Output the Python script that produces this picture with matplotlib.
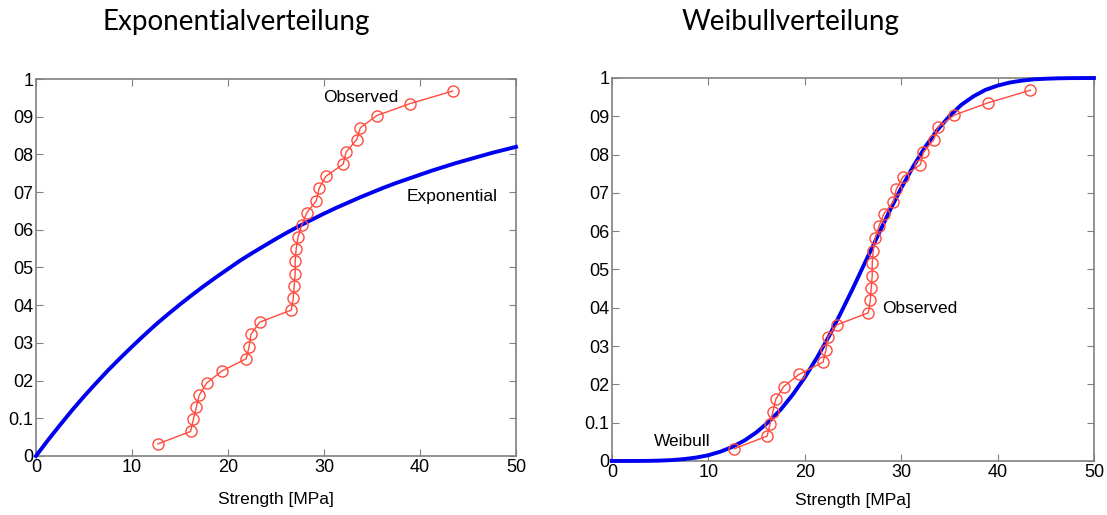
import matplotlib
matplotlib.use("Agg")
import matplotlib.pyplot as plt

plt.rcParams["font.family"] = ["Liberation Sans", "DejaVu Sans"]

# observed strengths [MPa] and plotting positions
obs_x = [12.7, 16.1, 16.4, 16.7, 17.0, 17.8, 19.4, 21.9, 22.2, 22.4,
         23.3, 26.6, 26.8, 26.9, 27.0, 27.0, 27.1, 27.3, 27.7, 28.2,
         29.2, 29.5, 30.2, 32.0, 32.3, 33.4, 33.8, 35.5, 39.0, 43.4]
obs_y = [0.032, 0.065, 0.097, 0.129, 0.161, 0.194, 0.226, 0.258, 0.290, 0.323,
         0.355, 0.387, 0.419, 0.452, 0.484, 0.516, 0.548, 0.581, 0.613, 0.645,
         0.677, 0.710, 0.742, 0.774, 0.806, 0.839, 0.871, 0.903, 0.935, 0.968]

# fitted curves
curve_x = [0, 1.25, 2.5, 3.75, 5, 6.25, 7.5, 8.75, 10, 11.25, 12.5, 13.75,
           15, 16.25, 17.5, 18.75, 20, 21.25, 22.5, 23.75, 25, 26.25,
           27.5, 28.75, 30, 31.25, 32.5, 33.75, 35, 36.25, 37.5, 38.75,
           40, 41.25, 42.5, 43.75, 45, 46.25, 47.5, 48.75, 50]
expo_y = [0.0, 0.042, 0.082, 0.121, 0.158, 0.193, 0.227, 0.259, 0.290, 0.320,
          0.349, 0.376, 0.402, 0.427, 0.451, 0.474, 0.496, 0.518, 0.538, 0.557,
          0.576, 0.594, 0.611, 0.627, 0.643, 0.658, 0.672, 0.686, 0.699, 0.712,
          0.724, 0.735, 0.746, 0.757, 0.767, 0.777, 0.786, 0.795, 0.804, 0.812,
          0.820]
weib_y = [0.0, 0.0, 0.0001, 0.0003, 0.001, 0.0023, 0.005, 0.009, 0.015, 0.0243,
          0.037, 0.0535, 0.075, 0.102, 0.134, 0.173, 0.218, 0.269, 0.325, 0.387,
          0.451, 0.518, 0.584, 0.650, 0.712, 0.769, 0.820, 0.864, 0.900, 0.930,
          0.952, 0.969, 0.980, 0.988, 0.993, 0.9964, 0.998, 0.9991, 0.9996, 0.9998,
          0.9999]

x_ticks = [0, 10, 20, 30, 40, 50]
y_ticks = [0, 0.1, 0.2, 0.3, 0.4, 0.5, 0.6, 0.7, 0.8, 0.9, 1.0]
y_ticklabels = ["0", "0.1", "02", "03", "04", "05", "06", "07", "08", "09", "1"]

red = "#ff4a3d"
blue = "#0000f0"
spine_col = "#808080"

fig = plt.figure(figsize=(11.07, 5.15), dpi=100)
ax1 = fig.add_axes([0.0325, 0.1146, 0.4336, 0.732])
ax2 = fig.add_axes([0.5528, 0.1049, 0.4354, 0.7437])


def style(ax, lpad):
    ax.set_xlim(0, 50)
    ax.set_ylim(0, 1)
    ax.set_xticks(x_ticks)
    ax.set_yticks(y_ticks)
    ax.set_yticklabels(y_ticklabels)
    ax.tick_params(direction="in", top=True, right=True, length=5,
                   color=spine_col, labelsize=13, pad=2)
    for s in ax.spines.values():
        s.set_color(spine_col)
        s.set_linewidth(1.2)
    ax.set_xlabel("Strength [MPa]", fontsize=12.5, labelpad=lpad)


ax1.plot(curve_x, expo_y, color=blue, lw=2.8, clip_on=False, zorder=3)
ax1.plot(obs_x, obs_y, color=red, lw=1, marker="o", ms=8, mfc="none",
         mec=red, mew=1, zorder=4)
ax1.text(29.9, 0.95, "Observed", fontsize=12.5, va="center")
ax1.text(38.6, 0.687, "Exponential", fontsize=12.5, va="center")
style(ax1, 11.5)

ax2.plot(curve_x, weib_y, color=blue, lw=2.8, clip_on=False, zorder=3)
ax2.plot(obs_x, obs_y, color=red, lw=1, marker="o", ms=8, mfc="none",
         mec=red, mew=1, zorder=4)
ax2.text(28.0, 0.397, "Observed", fontsize=12.5, va="center")
ax2.text(4.4, 0.052, "Weibull", fontsize=12.5, va="center")
style(ax2, 9)

fig.text(0.213, 0.958, "Exponentialverteilung", fontsize=20, family="Lato",
         ha="center", va="center")
fig.text(0.714, 0.958, "Weibullverteilung", fontsize=20, family="Lato",
         ha="center", va="center")

fig.savefig("out.png", dpi=100)
